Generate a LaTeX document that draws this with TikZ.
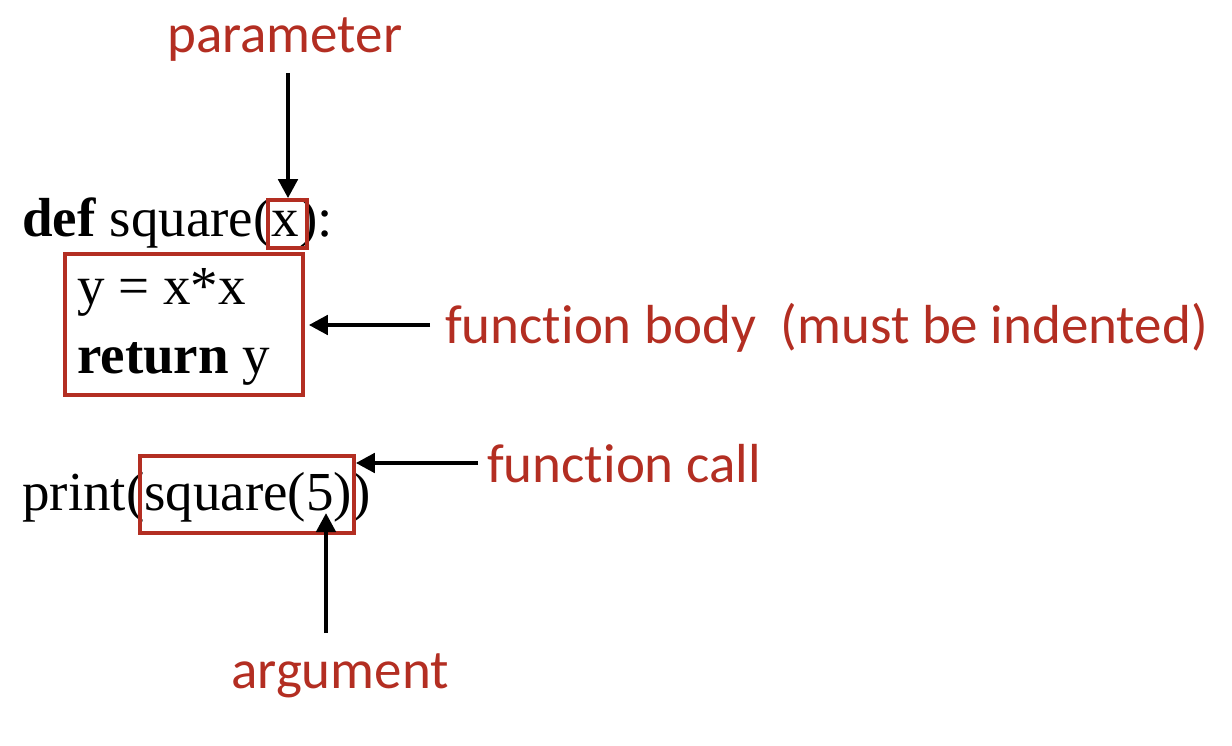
\documentclass[tikz,border=0pt]{standalone}
\usepackage{fontspec}
\usetikzlibrary{arrows.meta}
\setmainfont{Liberation Serif}
\newfontfamily\labelfont[Ligatures={NoCommon}]{Carlito}
\definecolor{fnred}{RGB}{179,46,34}
\tikzset{
  code/.style={font=\fontsize{55}{66}\selectfont, anchor=base west, inner sep=0pt},
  lbl/.style={font=\labelfont\fontsize{55}{66}\selectfont, text=fnred, anchor=base west, inner sep=0pt},
  redbox/.style={draw=fnred, line width=3.5pt, inner sep=0pt},
  arr/.style={-{Triangle[length=19pt,width=19pt]}, line width=4.5pt}
}
\begin{document}
\begin{tikzpicture}[x=1pt, y=-1pt]
    \useasboundingbox (0, 0) rectangle (1232, 746);

    % Code lines
    \node[code] (defline) at (22, 237) {\textbf{def} square(x):};
    \node[code] (bodyone) at (77, 305) {y = x*x};
    \node[code] (bodytwo) at (77, 373) {\textbf{return} y};
    \node[code] (printline) at (22, 510) {print(square(5))};

    % Red boxes
    \node[redbox, minimum width=39, minimum height=48] (xbox) at (287.5, 224) {};
    \node[redbox, minimum width=238, minimum height=141] (bodybox) at (184, 324.5) {};
    \node[redbox, minimum width=214, minimum height=77] (callbox) at (247, 494.5) {};

    % Labels
    \node[lbl] (param) at (167, 53) {parameter};
    \node[lbl] (bodylbl) at (445, 343) {function body~~(must be indented)};
    \node[lbl] (calllbl) at (487, 482) {function call};
    \node[lbl] (arglbl) at (231, 688) {argument};

    % Arrows
    \coordinate (ptail) at (288, 73);
    \coordinate (btail) at (430, 325);
    \coordinate (ctail) at (478, 463);
    \coordinate (atail) at (326, 633);
    \coordinate (atip) at (326, 513);
    \draw[arr] (ptail) -- (ptail |- xbox.north);
    \draw[arr, shorten >=4pt] (btail) -- (btail -| bodybox.east);
    \draw[arr] (ctail) -- (ctail -| callbox.east);
    \draw[arr] (atail) -- (atip);
\end{tikzpicture}
\end{document}
